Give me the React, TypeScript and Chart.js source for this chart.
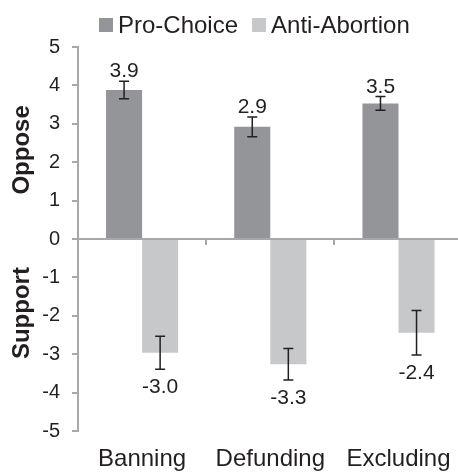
import React, { useEffect, useRef } from "react";
import { Chart, registerables } from "chart.js";

Chart.register(...registerables);

const categories = ["Banning", "Defunding", "Excluding"];
const seriesNames = ["Pro-Choice", "Anti-Abortion"];
const proChoice = [3.88, 2.92, 3.53];
const antiAbortion = [-2.96, -3.26, -2.44];
const proChoiceErr = [0.23, 0.26, 0.18];
const antiAbortionErr = [0.43, 0.41, 0.58];
const seriesColors = ["#939598", "#c7c8ca"];
const yMin = -5;
const yMax = 5;
const sideTitles = [
  { text: "Oppose", value: 2.32 },
  { text: "Support", value: -1.93 },
];

const AXIS = "#a7a8aa";
const TEXT = "#231f20";
const FONT = "Liberation Sans, Arial, sans-serif";

const errorBarsPlugin = {
  id: "errorBars",
  afterDatasetsDraw(chart: any) {
    const { ctx } = chart;
    const y = chart.scales.y;
    const errs = [proChoiceErr, antiAbortionErr];
    ctx.save();
    chart.data.datasets.forEach((ds: any, di: number) => {
      const meta = chart.getDatasetMeta(di);
      meta.data.forEach((bar: any, i: number) => {
        const v = ds.data[i];
        const e = errs[di][i];
        const x = bar.x;
        const yTop = y.getPixelForValue(v + e);
        const yBot = y.getPixelForValue(v - e);
        ctx.strokeStyle = TEXT;
        ctx.lineWidth = 1.5;
        ctx.beginPath();
        ctx.moveTo(x, yTop);
        ctx.lineTo(x, yBot);
        ctx.moveTo(x - 5, yTop);
        ctx.lineTo(x + 5, yTop);
        ctx.moveTo(x - 5, yBot);
        ctx.lineTo(x + 5, yBot);
        ctx.stroke();
        // value labels
        ctx.fillStyle = TEXT;
        ctx.font = `21px ${FONT}`;
        ctx.textAlign = "center";
        ctx.textBaseline = "alphabetic";
        const label = v.toFixed(1);
        if (v >= 0) {
          ctx.fillText(label, x, yTop - 4);
        } else {
          ctx.fillText(label, x, yBot + 9 + 15);
        }
      });
    });
    ctx.restore();
  },
};

const sideTitlesPlugin = {
  id: "sideTitles",
  afterDraw(chart: any) {
    const { ctx } = chart;
    const y = chart.scales.y;
    ctx.save();
    ctx.fillStyle = TEXT;
    ctx.font = `bold 24px ${FONT}`;
    ctx.textAlign = "center";
    ctx.textBaseline = "middle";
    sideTitles.forEach((t) => {
      ctx.save();
      ctx.translate(22, y.getPixelForValue(t.value));
      ctx.rotate(-Math.PI / 2);
      ctx.fillText(t.text, 0, 0);
      ctx.restore();
    });
    ctx.restore();
  },
};

const legendPlugin = {
  id: "customLegend",
  afterDraw(chart: any) {
    const { ctx } = chart;
    ctx.save();
    ctx.font = `24px ${FONT}`;
    ctx.textBaseline = "middle";
    ctx.textAlign = "left";
    let x = 99;
    const cy = 25;
    chart.data.datasets.forEach((ds: any) => {
      ctx.fillStyle = ds.backgroundColor;
      ctx.fillRect(x, cy - 7, 14, 14);
      x += 14 + 5;
      ctx.fillStyle = TEXT;
      ctx.fillText(ds.label, x, cy + 1);
      x += ctx.measureText(ds.label).width + 14;
    });
    ctx.restore();
  },
};

export default function App() {
  const ref = useRef<HTMLCanvasElement>(null);
  useEffect(() => {
    if (!ref.current) return;
    const chart = new Chart(ref.current, {
      type: "bar",
      data: {
        labels: categories,
        datasets: [
          {
            label: seriesNames[0],
            data: proChoice,
            backgroundColor: seriesColors[0],
            categoryPercentage: 0.5625,
            barPercentage: 1,
          },
          {
            label: seriesNames[1],
            data: antiAbortion,
            backgroundColor: seriesColors[1],
            categoryPercentage: 0.5625,
            barPercentage: 1,
          },
        ],
      },
      options: {
        responsive: false,
        animation: false,
        layout: { padding: { top: 47, right: 3.4, bottom: 0, left: 0 } },
        plugins: {
          legend: { display: false },
          tooltip: { enabled: false },
        },
        scales: {
          x: {
            type: "category",
            position: "bottom",
            offset: true,
            grid: { display: false, drawTicks: false },
            border: { display: false },
            ticks: {
              color: TEXT,
              font: { family: FONT, size: 24 },
              padding: 14,
              maxRotation: 0,
              autoSkip: false,
            },
            afterFit(scale: any) {
              scale.height = 41;
            },
          },
          x2: {
            type: "category",
            position: { y: 0 },
            offset: true,
            grid: {
              display: true,
              offset: true,
              drawOnChartArea: false,
              drawTicks: true,
              tickLength: 6,
              color: AXIS,
              tickColor: AXIS,
              lineWidth: 2,
            },
            border: { display: false },
            ticks: { display: false },
          },
          y: {
            type: "linear",
            min: yMin,
            max: yMax,
            ticks: {
              stepSize: 1,
              color: TEXT,
              font: { family: FONT, size: 20 },
              padding: 12,
            },
            grid: {
              drawOnChartArea: true,
              drawTicks: true,
              tickLength: 6,
              lineWidth: 2,
              color: (c: any) => (c.tick && c.tick.value === 0 ? AXIS : "rgba(0,0,0,0)"),
              tickColor: AXIS,
            },
            border: { display: true, color: AXIS, width: 2 },
            afterFit(scale: any) {
              scale.width = 78;
            },
          },
        },
      },
      plugins: [errorBarsPlugin, sideTitlesPlugin, legendPlugin],
    } as any);
    return () => chart.destroy();
  }, []);
  return (
    <div
      style={{
        position: "fixed",
        left: 0,
        top: 0,
        width: 458,
        height: 472,
        overflow: "hidden",
        background: "#fff",
      }}
    >
      <canvas ref={ref} width={466} height={472} style={{ width: 466, height: 472, display: "block" }} />
    </div>
  );
}
